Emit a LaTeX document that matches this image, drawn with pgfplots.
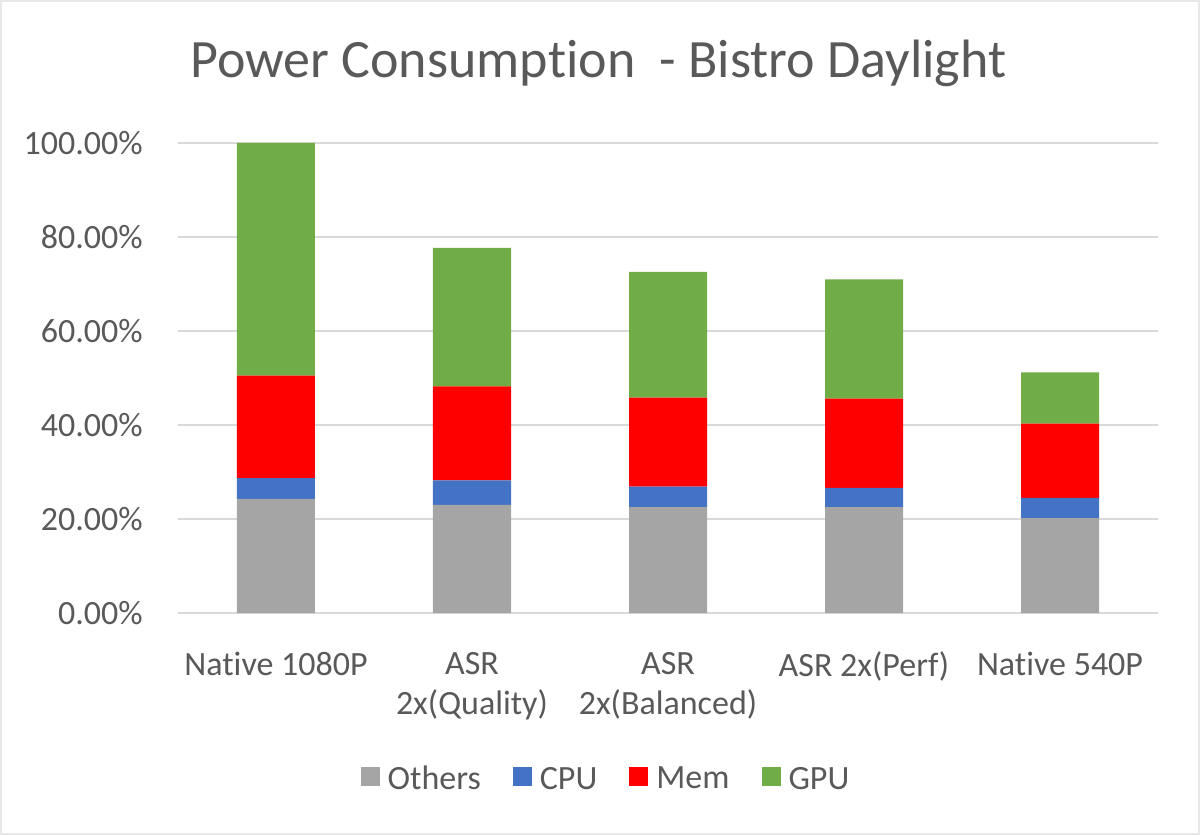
\documentclass[border=0pt]{standalone}
\usepackage{pgfplots}
\pgfplotsset{compat=1.18}
\usepackage{fontspec}
\setmainfont{Carlito}[Ligatures=NoCommon]
\definecolor{txt}{HTML}{595959}
\definecolor{grd}{HTML}{D9D9D9}
\definecolor{cOth}{HTML}{A5A5A5}
\definecolor{cCPU}{HTML}{4472C4}
\definecolor{cMem}{HTML}{FF0000}
\definecolor{cGPU}{HTML}{70AD47}
\begin{document}
\begin{tikzpicture}
\useasboundingbox (-89pt,-111pt) rectangle (511pt,306.5pt);
\draw[grd!60, line width=0.8pt] (-88.6pt,-110.6pt) rectangle (510.6pt,306.1pt);
\begin{axis}[
  at={(0,0)}, anchor=south west,
  scale only axis, width=490pt, height=235pt,
  ybar stacked, bar width=39pt,
  xmin=-0.5, xmax=4.5, ymin=0, ymax=100,
  xtick={0,1,2,3,4},
  xticklabels={Native 1080P,ASR\\2x(Quality),ASR\\2x(Balanced),ASR 2x(Perf),Native 540P},
  ytick={0,20,40,60,80,100},
  yticklabels={0.00\%,20.00\%,40.00\%,60.00\%,80.00\%,100.00\%},
  major tick length=0pt,
  axis line style={draw=none},
  ymajorgrids, grid style={grd, line width=0.8pt},
  xticklabel style={font=\fontsize{17}{20}\selectfont, text=txt, align=center, anchor=north, inner sep=0pt, yshift=-19.3pt},
  yticklabel style={font=\fontsize{17}{20}\selectfont, text=txt, anchor=east, inner sep=0pt, text depth=0pt, xshift=-17.5pt},
  legend columns=4,
  legend style={draw=none, fill=none, at={(0.4357,-0.351)}, anchor=center,
    font=\fontsize{17}{20}\selectfont, text=txt, column sep=4pt,
    nodes={inner sep=0pt, text depth=0pt},
    /tikz/every even column/.append style={column sep=16pt}},
  legend image code/.code={\fill[#1] (0pt,-4pt) rectangle (9.5pt,5.5pt);},
]
\addplot[fill=cOth, draw=none] coordinates {(0,24.3) (1,23.0) (2,22.5) (3,22.5) (4,20.2)};
\addplot[fill=cCPU, draw=none] coordinates {(0,4.4) (1,5.2) (2,4.4) (3,4.1) (4,4.3)};
\addplot[fill=cMem, draw=none] coordinates {(0,21.8) (1,20.0) (2,18.9) (3,19.0) (4,15.8)};
\addplot[fill=cGPU, draw=none] coordinates {(0,49.5) (1,29.5) (2,26.8) (3,25.4) (4,10.9)};
\legend{Others,CPU,Mem,GPU}
\end{axis}
\node[anchor=base west, inner sep=0pt, text=txt, font=\fontsize{27}{32}\selectfont] at (6pt,267.5pt) {Power Consump\kern0pt tion\ \ - Bistro Daylight};
\end{tikzpicture}
\end{document}
